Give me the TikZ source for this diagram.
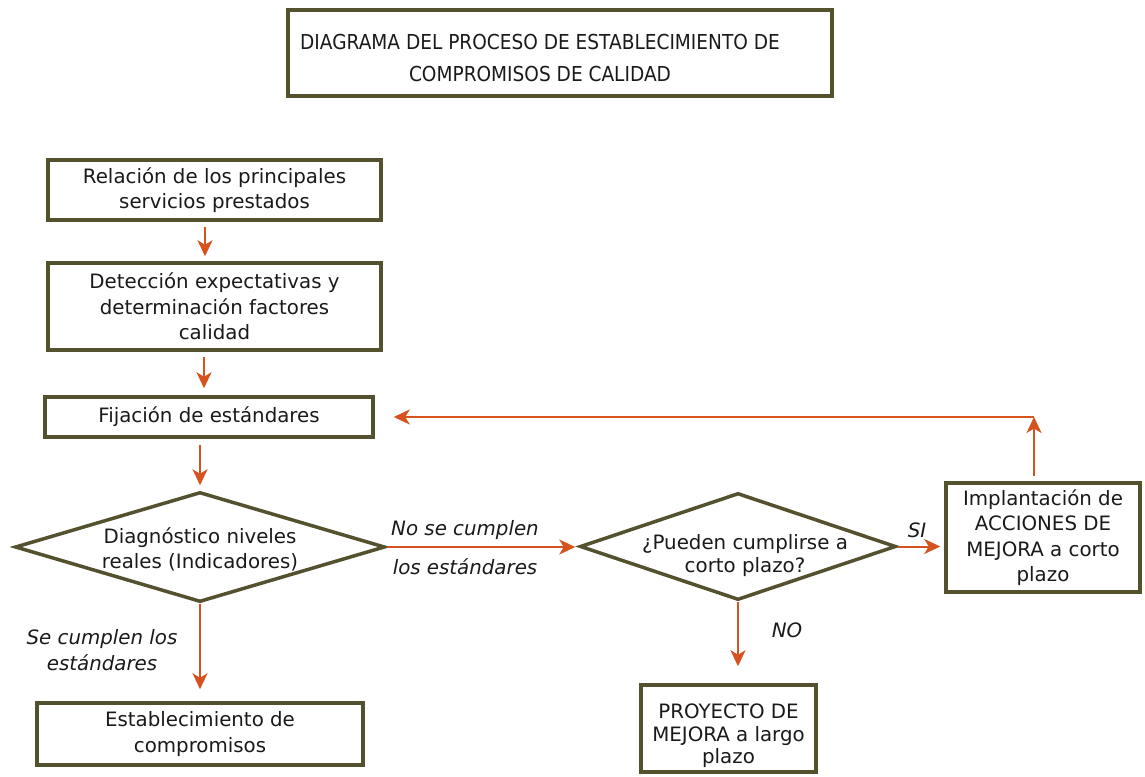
\documentclass[tikz,border=0pt]{standalone}
\usepackage{fontspec}
\setmainfont{DejaVu Sans}
\newfontfamily\titlefont[FakeStretch=0.9]{DejaVu Sans}
\usetikzlibrary{arrows.meta,shapes.geometric}
\definecolor{olivebd}{HTML}{54522E}
\definecolor{arrcol}{HTML}{D6521F}
\definecolor{txtcol}{HTML}{1A1A1A}
\newcommand{\bodyfnt}{\fontsize{19.8}{25.5}\selectfont}
\begin{document}
\begin{tikzpicture}[x=1pt,y=-1pt,
  box/.style={draw=olivebd, line width=3.5pt, fill=white, align=center, font=\bodyfnt, text=txtcol, inner sep=0pt},
  dia/.style={diamond, aspect=2, draw=olivebd, line width=3.5pt, fill=white, inner sep=0pt, font=\bodyfnt, text=txtcol},
  conn/.style={draw=arrcol, line width=2pt, -{Stealth[length=16pt,width=15pt,inset=4.5pt]}},
  lbl/.style={font=\bodyfnt\itshape, text=txtcol, inner sep=0pt}]
\fill[white] (0,0) rectangle (1145,776);
\useasboundingbox (0,0) rectangle (1145,776);

\node[box, minimum width=544, minimum height=86] (title) at (560,53)
  {\raisebox{-11pt}[0pt][0pt]{\titlefont\fontsize{20.6}{32}\selectfont\begin{tabular}{@{}c@{}}DIAGRAMA DEL PROCESO DE ESTABLECIMIENTO DE\\COMPROMISOS DE CALIDAD\end{tabular}}\hspace*{40pt}};

\node[box, minimum width=333, minimum height=60] (b1) at (214.5,190) {Relación de los principales\\servicios prestados};
\node[box, minimum width=333, minimum height=87] (b2) at (214.5,306.5) {Detección expectativas y\\determinación factores\\calidad};
\node[box, minimum width=328, minimum height=40] (b3) at (209,417) {Fijación de estándares};
\node[dia, minimum width=370, minimum height=110] (d1) at (200,547)
  {\makebox[0pt]{\raisebox{-9pt}[0pt][0pt]{\begin{tabular}{@{}c@{}}Diagnóstico niveles\\reales (Indicadores)\end{tabular}}}};
\node[box, minimum width=326, minimum height=62] (b4) at (200,734) {Establecimiento de\\compromisos};
\node[dia, minimum width=316, minimum height=107] (d2) at (738,546.5)
  {\makebox[0pt]{\hspace*{14pt}\raisebox{-15pt}[0pt][0pt]{\fontsize{19.8}{23.5}\selectfont\begin{tabular}{@{}c@{}}¿Pueden cumplirse a\\corto plazo?\end{tabular}}}};
\node[box, minimum width=194, minimum height=109] (b5) at (1043,537.5) {Implantación de\\ACCIONES DE\\MEJORA a corto\\plazo};
\node[box, minimum width=175, minimum height=87] (b6) at (728.5,728.5)
  {\raisebox{-13.5pt}[0pt][0pt]{\fontsize{19.8}{22.5}\selectfont\begin{tabular}{@{}c@{}}PROYECTO DE\\MEJORA a largo\\plazo\end{tabular}}};

\draw[conn, shorten <=5pt, shorten >=5pt] ([xshift=-9.5pt]b1.south) -- ([xshift=-9.5pt]b2.north);
\draw[conn, shorten <=5pt, shorten >=7pt] ([xshift=-10.5pt]b2.south) -- ([xshift=-10.5pt]b2.south |- b3.north);
\draw[conn, shorten <=6pt, shorten >=5pt] ([xshift=-9pt]b3.south) -- (d1.north);
\draw[conn, shorten >=12pt] (d1.south) -- (d1.south |- b4.north);
\draw[conn, shorten >=3pt] (d1.east) -- (d1.east -| d2.west);
\draw[conn, shorten >=4pt] (d2.east) -- (d2.east -| b5.west);
\draw[conn, shorten >=17pt] (d2.south) -- (d2.south |- b6.north);
\coordinate (corner) at ([xshift=-9pt]b5.north |- b3.east);
\draw[conn, shorten <=5pt] ([xshift=-9pt]b5.north) -- (corner);
\draw[conn, shorten >=19pt] (corner) -- (b3.east);

\node[lbl] (l1) at (465,530) {No se cumplen};
\node[lbl] (l2) at (465,567) {los estándares};
\node[lbl] (l3) at (917,530) {SI};
\node[lbl] (l4) at (787,630) {NO};
\node[lbl, align=center] (l5) at (102,650) {Se cumplen los\\estándares};
\end{tikzpicture}
\end{document}
